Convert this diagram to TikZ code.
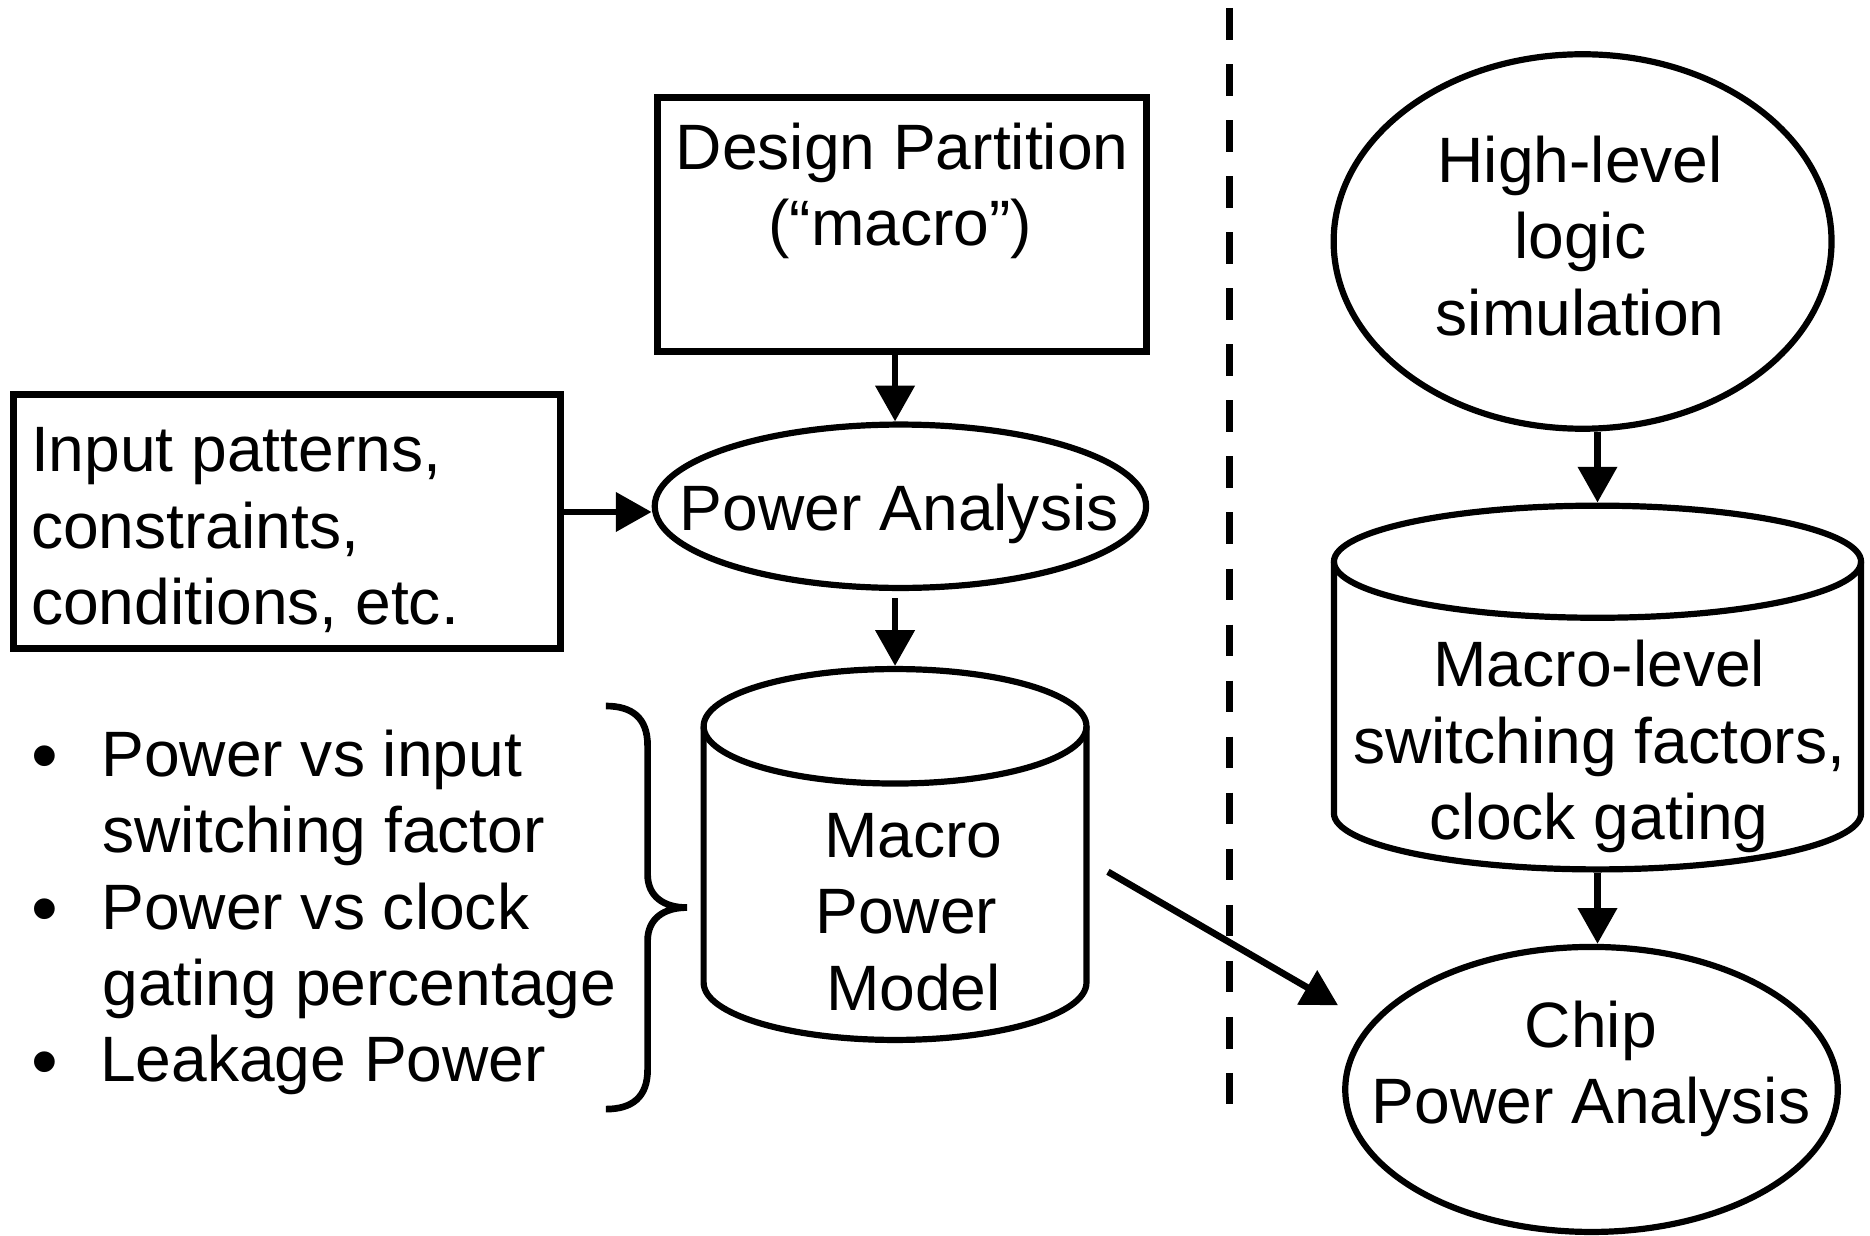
\documentclass[tikz,border=0pt]{standalone}
\usepackage{fontspec}
\setmainfont{Liberation Sans}
\usetikzlibrary{arrows.meta,shapes.geometric}
\begin{document}
\begin{tikzpicture}[x=0.5pt,y=-0.5pt,
  txt/.style={inner sep=0pt, outer sep=0pt, anchor=base, font=\fontsize{26.9pt}{32pt}\selectfont},
  ltxt/.style={txt, anchor=base west},
  bul/.style={inner sep=0pt, outer sep=0pt, anchor=center, font=\fontsize{32pt}{36pt}\selectfont},
  boxst/.style={draw, line width=3pt, inner sep=0pt, outer sep=1.5pt},
  ell/.style={draw, ellipse, line width=2.6pt, inner sep=0pt, outer sep=1.3pt},
  cylbox/.style={inner sep=0pt, outer sep=1.3pt},
  cylline/.style={line width=2.6pt},
  arr/.style={line width=2.8pt, -{Triangle[length=15pt,width=16pt]}},
  ]
\useasboundingbox (0,0) rectangle (1568,1036);

% ---- nodes (shapes)
\node[boxst, minimum width=205pt, minimum height=106.5pt] (dp) at (756,188.4) {};
\node[boxst, minimum width=229.5pt, minimum height=106.3pt] (inp) at (240.5,437.3) {};
\node[ell, minimum width=206pt, minimum height=68.5pt] (pa) at (755,424.5) {};
\node[cylbox, minimum width=160.5pt, minimum height=155.5pt] (mpm) at (750.5,716.5) {};
\node[ell, minimum width=208.75pt, minimum height=157pt] (hl) at (1327,202.5) {};
\node[cylbox, minimum width=221pt, minimum height=152.5pt] (rcyl) at (1339.5,576.5) {};
\node[ell, minimum width=206.5pt, minimum height=119.5pt] (chip) at (1334.5,913.5) {};

% ---- cylinders
\draw[cylline] (750.5,609) ellipse [x radius=160.5, y radius=48];
\draw[cylline] (590,609) -- (590,824) .. controls (590,850.5) and (661.9,872) .. (750.5,872)
  .. controls (839.1,872) and (911,850.5) .. (911,824) -- (911,609);
\draw[cylline] (1339.5,471) ellipse [x radius=221, y radius=47];
\draw[cylline] (1118.5,471) -- (1118.5,682) .. controls (1118.5,707.96) and (1217.44,729) .. (1339.5,729)
  .. controls (1461.56,729) and (1560.5,707.96) .. (1560.5,682) -- (1560.5,471);

% ---- texts
\node[txt] (dpt1) at (756.5,142) {Design Partition};
\node[txt] (dpt2) at (755,206) {(“macro”)};
\node[ltxt] (inp1) at (26,395.5) {Input patterns,};
\node[ltxt] (inp2) at (26,459.8) {constraints,};
\node[ltxt] (inp3) at (26,524) {conditions, etc.};
\node[txt] (pat) at (754,444.5) {Power Analysis};
\node[txt] (mpm1) at (766,718.6) {Macro};
\node[txt] (mpm2) at (760,782.6) {Power};
\node[txt] (mpm3) at (766,847) {Model};
\node[txt] (hl1) at (1325,153) {High-level};
\node[txt] (hl2) at (1325,217) {logic};
\node[txt] (hl3) at (1325,281) {simulation};
\node[txt] (rc1) at (1341,576) {Macro-level};
\node[txt] (rc2) at (1341,640) {switching factors,};
\node[txt] (rc3) at (1341,704) {clock gating};
\node[txt] (ch1) at (1334,878) {Chip};
\node[txt] (ch2) at (1334,942) {Power Analysis};

\node[bul] (b1) at (38,640) {•};
\node[bul] (b2) at (38,769) {•};
\node[bul] (b3) at (38,897) {•};
\node[ltxt] (l1) at (85,651) {Power vs input};
\node[ltxt] (l2) at (86,715) {switching factor};
\node[ltxt] (l3) at (85,779) {Power vs clock};
\node[ltxt] (l4) at (86,843) {gating percentage};
\node[ltxt] (l5) at (84,907) {Leakage Power};

% ---- brace
\draw[line width=2.8pt] (508,592) .. controls (530,592) and (543,602) .. (543,625) -- (543,733)
  .. controls (543,752) and (557,761) .. (576,761)
  .. controls (557,761) and (543,770) .. (543,789) -- (543,897)
  .. controls (543,920) and (530,930) .. (508,930);

% ---- dashed separator
\draw[line width=3.2pt, dash pattern=on 13.25pt off 10.25pt] (1031,6.7) -- (1031,926);

% ---- connectors
\draw[arr] (dp.south -| mpm.north) -- (pa.north -| mpm.north);
\draw[arr] ([yshift=4pt]inp.east) -- ([yshift=4pt]inp.east -| pa.west);
\draw[arr, shorten <=3pt] (pa.south -| mpm.north) -- (mpm.north);
\draw[arr] (hl.south -| rcyl.north) -- (rcyl.north);
\draw[arr] (rcyl.south) -- (rcyl.south |- chip.north);
\coordinate (dgs) at (929,731);
\coordinate (dge) at (1122,843);
\draw[arr] (dgs) -- (dge);
\end{tikzpicture}
\end{document}
